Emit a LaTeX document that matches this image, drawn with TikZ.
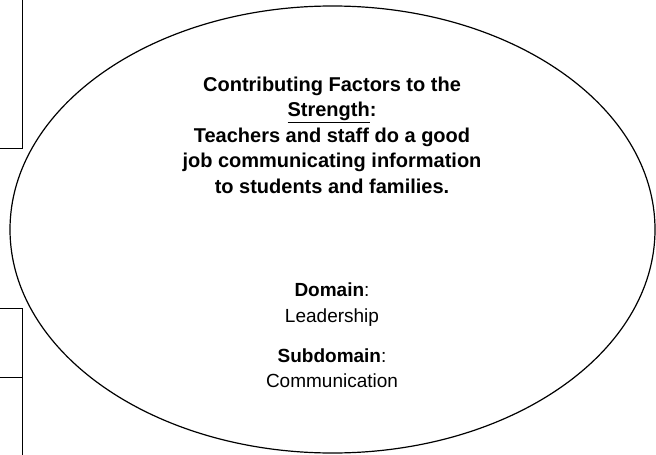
\documentclass[tikz,border=0pt]{standalone}
\usepackage{fontspec}
\setmainfont{Liberation Sans}
\usetikzlibrary{positioning}
\usetikzlibrary{shapes.geometric}

\tikzset{
	factor/.style={align=center,inner sep=0pt,font=\fontsize{19}{25.5}\selectfont},
	sidebox/.style={draw,line width=0.8pt}
}

\begin{document}
\begin{tikzpicture}[x=1pt,y=1pt]
	\useasboundingbox (0,0) rectangle (656,-455);
	% boxes cut off at the left
	\draw[sidebox] (-20,20) rectangle (22,-148);
	\draw[sidebox] (-20,-308) rectangle (22,-377);
	\draw[sidebox] (-20,-377) rectangle (22,-480);
	
	\node[draw,ellipse,line width=1.2pt,minimum width=645pt,minimum height=447pt] (strength) at (332.5,-229.5) {};
	
	\node[factor,font=\bfseries\fontsize{20}{25.5}\selectfont] (head) at (332,-135) {Contributing Factors to the\\\underline{Strength}:\\Teachers and staff do a good\\job communicating information\\to students and families.};
	\node[factor,below=89pt of head] (domain) {\textbf{Domain}:\\Leadership};
	\node[factor,below=22pt of domain] (subdomain) {\textbf{Subdomain}:\\Communication};
\end{tikzpicture}
\end{document}
